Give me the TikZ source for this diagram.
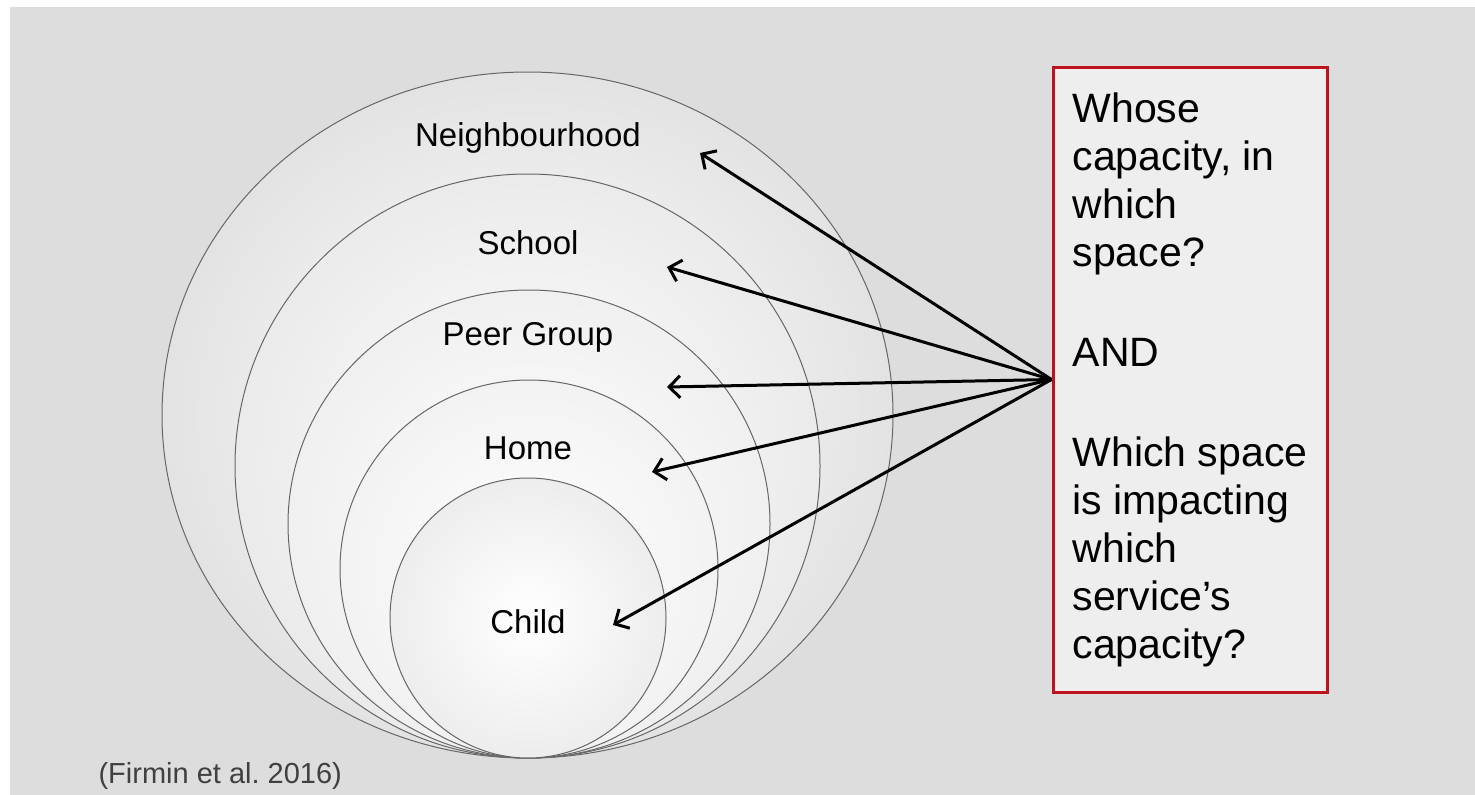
\documentclass[tikz,border=0pt]{standalone}
\usepackage{fontspec}
\setmainfont{Liberation Sans}
\usepackage{xcolor}
\usetikzlibrary{arrows,arrows.meta,positioning,shapes,calc}
\definecolor{slidegray}{RGB}{220,221,220}
\definecolor{boxgray}{RGB}{238,238,238}
\definecolor{boxred}{RGB}{192,18,30}

\begin{document}
\begin{tikzpicture}[x = 1pt, y = -1pt,
  ring/.style = {ellipse, draw = black!60, line width = 1pt, inner sep = 0pt, inner color = white, outer color = #1},
  ringlabel/.style = {font = \fontsize{33}{40}\selectfont},
  pointer/.style = {-{Straight Barb[length = 11pt, width = 22pt]}, line width = 3pt}]
\useasboundingbox (0,0) rectangle (1475,795);
\fill[white] (0,0) rectangle (1475,795);
\fill[slidegray] (10,7) rectangle (1475,795);
% nested spaces, all touching at the bottom
\node[ring = black!11, minimum width = 731pt, minimum height = 686pt] (nbhd) at (527.5,415) {};
\node[ring = black!8, minimum width = 585pt, minimum height = 584pt] (school) at (527.5,466) {};
\node[ring = black!6, minimum width = 482pt, minimum height = 468pt] (peer) at (529,524) {};
\node[ring = black!5, minimum width = 378pt, minimum height = 378pt] (home) at (529,569) {};
\node[ring = black!7, minimum width = 276pt, minimum height = 280pt] (child) at (528,618) {};
\node[ringlabel] (nbhdlab) at (528,138) {Neighbourhood};
\node[ringlabel] (schoollab) at (528,243) {School};
\node[ringlabel] (peerlab) at (528,337) {Peer Group};
\node[ringlabel] (homelab) at (528,448) {Home};
\node[ringlabel] (childlab) at (528,622) {Child};
% question box
\node[draw = boxred, line width = 3pt, fill = boxgray, minimum width = 274pt, minimum height = 625pt, align = left, font = \fontsize{41}{48}\selectfont] (qbox) at (1190,379.5) {Whose\\capacity, in\\which\\space?\\[52pt]AND\\[52pt]Which space\\is impacting\\which\\service’s\\capacity?};
\coordinate (tipN) at (700,153);
\coordinate (tipS) at (667,267);
\coordinate (tipP) at (667,387);
\coordinate (tipH) at (652,472);
\coordinate (tipC) at (613,625);
\foreach \t in {tipN,tipS,tipP,tipH,tipC}
  \draw[pointer] (qbox.west) -- (\t);
\node[anchor = west, text = black!75, font = \fontsize{29}{34}\selectfont] (cite) at (95,776) {(Firmin et al.\ 2016)};
\end{tikzpicture}
\end{document}
